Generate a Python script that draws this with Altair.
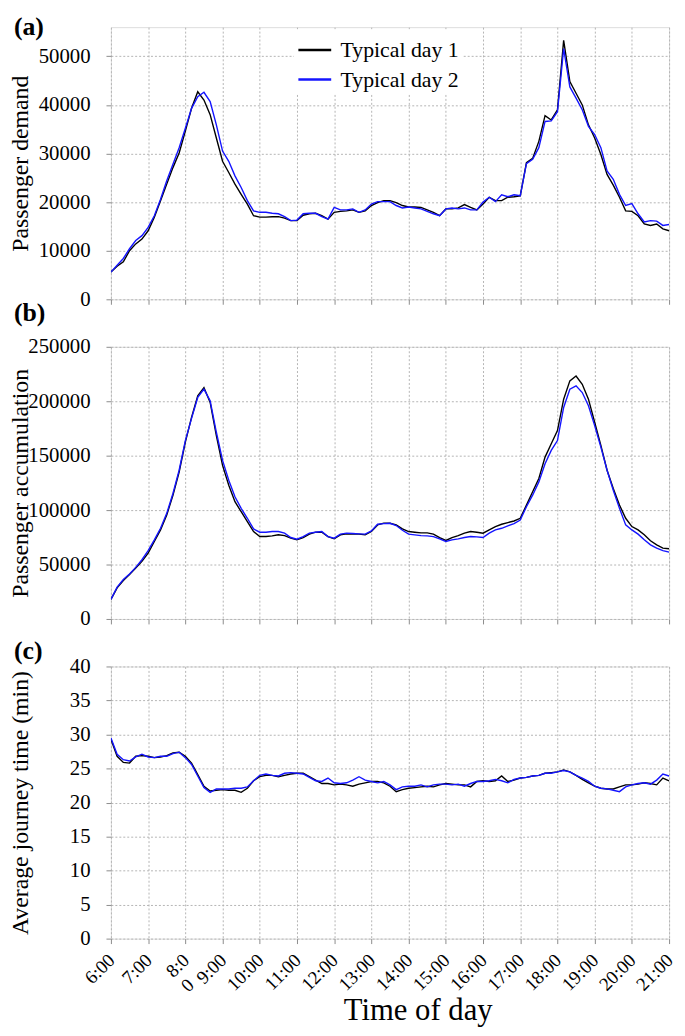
import altair as alt
import pandas as pd

# time grid: every 10 minutes from 6:00 to 21:00 (minutes since midnight)
minutes = list(range(360, 1261, 10))
hours = [m / 60 for m in minutes]
hour_ticks = list(range(6, 22))
series_names = ["Typical day 1", "Typical day 2"]

# (a) Passenger demand (thousands)
demand_d1 = [5.6, 6.8, 7.7, 10.0, 11.4, 12.4, 14.1,
             16.9, 20.3, 23.7, 27.1, 30.1, 34.6,
             39.3, 42.7, 41.0, 38.0, 33.2, 28.4,
             26.1, 23.7, 21.6, 19.6, 17.2, 16.9,
             16.9, 17.0, 17.0, 16.7, 16.2, 16.2,
             17.3, 17.6, 17.7, 17.2, 16.5, 17.9,
             18.1, 18.2, 18.4, 17.9, 18.2, 19.3,
             19.9, 20.3, 20.3, 19.9, 19.3, 19.0,
             19.0, 18.9, 18.4, 17.9, 17.2, 18.6,
             18.6, 18.8, 19.5, 18.9, 18.4, 19.6,
             21.0, 20.3, 20.3, 21.0, 21.1, 21.3,
             28.1, 29.0, 32.5, 37.8, 36.9, 39.0,
             53.3, 44.8, 42.4, 40.0, 35.9, 33.2,
             29.8, 25.7, 23.5, 21.0, 18.2, 18.1,
             17.2, 15.5, 15.2, 15.5, 14.5, 14.1]
demand_d2 = [5.6, 7.0, 8.4, 10.4, 12.1, 13.1, 14.8,
             17.2, 20.6, 24.4, 27.8, 31.2, 35.2,
             39.3, 41.7, 42.6, 40.7, 35.9, 30.5,
             28.4, 25.4, 23.0, 20.3, 18.2, 17.9,
             17.9, 17.7, 17.6, 17.0, 16.2, 16.3,
             17.6, 17.7, 17.7, 17.0, 16.5, 18.9,
             18.4, 18.4, 18.6, 17.9, 18.4, 19.6,
             20.1, 20.1, 20.1, 19.3, 18.8, 19.0,
             18.8, 18.6, 18.1, 17.6, 17.2, 18.6,
             18.8, 18.6, 18.8, 18.4, 18.4, 20.0,
             21.0, 20.1, 21.5, 21.1, 21.5, 21.3,
             27.9, 28.8, 31.2, 36.6, 36.7, 38.6,
             51.6, 43.7, 41.4, 39.0, 35.6, 33.9,
             31.2, 26.4, 24.7, 21.6, 19.3, 19.7,
             17.6, 15.9, 16.2, 16.1, 15.2, 15.4]

# (b) Passenger accumulation (thousands)
accum_d1 = [18.0, 28.6, 35.3, 40.8, 46.8, 52.9, 60.5,
            71.2, 81.8, 95.5, 113.7, 135.0, 162.4,
            185.2, 205.0, 212.6, 198.9, 168.5, 141.1,
            122.9, 107.7, 98.5, 89.4, 80.3, 75.7,
            75.7, 76.3, 77.3, 76.6, 74.2, 72.7,
            74.8, 77.9, 79.7, 79.7, 75.7, 73.6,
            77.3, 78.2, 77.9, 77.9, 77.3, 80.3,
            86.4, 88.0, 87.9, 86.4, 82.7, 80.3,
            79.7, 79.1, 79.1, 77.9, 74.8, 72.1,
            74.8, 76.6, 78.8, 80.3, 79.7, 78.8,
            81.8, 84.9, 87.0, 88.5, 90.0, 92.5,
            104.6, 116.8, 129.0, 148.7, 160.9, 173.1,
            201.9, 218.7, 223.2, 215.6, 201.9, 180.7,
            159.4, 136.6, 119.8, 104.6, 92.5, 84.9,
            81.8, 77.3, 71.8, 68.1, 65.1, 64.5]
accum_d2 = [18.0, 29.2, 36.2, 41.4, 47.4, 54.4, 62.7,
            72.7, 83.3, 97.0, 115.3, 136.6, 163.9,
            184.3, 203.5, 211.1, 200.4, 171.5, 145.7,
            127.4, 112.2, 101.6, 92.5, 82.7, 79.7,
            79.7, 80.3, 80.3, 78.8, 74.8, 73.3,
            75.7, 78.8, 79.7, 80.3, 75.7, 74.2,
            77.9, 78.8, 78.5, 78.2, 77.9, 80.9,
            87.0, 87.6, 87.9, 85.8, 81.5, 77.9,
            77.3, 76.6, 76.3, 75.7, 73.6, 71.2,
            72.7, 73.6, 74.8, 75.7, 75.4, 74.8,
            78.8, 81.8, 83.3, 85.5, 87.6, 90.9,
            103.1, 113.7, 125.9, 142.6, 154.8, 163.9,
            194.3, 211.1, 214.1, 208.0, 195.9, 177.6,
            157.8, 136.6, 118.3, 101.6, 86.4, 81.8,
            77.9, 72.7, 68.1, 65.1, 62.7, 61.4]

# (c) Average journey time (min)
jt_d1 = [29.3, 26.8, 25.9, 25.8, 26.8, 26.9, 26.8,
         26.6, 26.7, 26.9, 27.3, 27.4, 26.8,
         25.8, 24.1, 22.4, 21.7, 21.8, 21.9,
         21.8, 21.8, 21.5, 22.1, 23.2, 23.8,
         24.0, 24.0, 23.8, 24.0, 24.2, 24.3,
         24.3, 23.8, 23.3, 22.8, 22.8, 22.6,
         22.7, 22.6, 22.4, 22.7, 22.9, 23.1,
         23.1, 22.9, 22.4, 21.6, 21.9, 22.1,
         22.2, 22.3, 22.4, 22.3, 22.6, 22.8,
         22.7, 22.6, 22.6, 22.3, 23.1, 23.2,
         23.1, 23.2, 23.9, 23.1, 23.3, 23.6,
         23.7, 23.9, 24.0, 24.3, 24.4, 24.5,
         24.8, 24.5, 24.0, 23.4, 22.9, 22.4,
         22.1, 22.0, 22.0, 22.3, 22.6, 22.6,
         22.7, 22.9, 22.8, 22.6, 23.6, 23.2]
jt_d2 = [29.5, 27.1, 26.3, 26.1, 26.7, 27.1, 26.7,
         26.6, 26.8, 26.8, 27.2, 27.4, 26.6,
         25.6, 23.9, 22.2, 21.5, 22.0, 22.0,
         22.0, 22.1, 22.1, 22.3, 23.2, 24.0,
         24.2, 24.0, 23.9, 24.3, 24.4, 24.3,
         24.2, 23.7, 23.2, 23.1, 23.6, 22.9,
         22.8, 22.9, 23.3, 23.8, 23.3, 23.1,
         22.9, 23.1, 22.6, 21.9, 22.3, 22.4,
         22.4, 22.6, 22.3, 22.6, 22.7, 22.7,
         22.6, 22.7, 22.4, 22.8, 23.1, 23.1,
         23.2, 23.4, 23.2, 22.9, 23.4, 23.6,
         23.7, 23.9, 24.0, 24.3, 24.3, 24.5,
         24.7, 24.5, 24.0, 23.6, 23.1, 22.4,
         22.1, 22.0, 21.8, 21.6, 22.3, 22.6,
         22.8, 22.9, 22.7, 23.3, 24.2, 23.9]

# the 8:00 tick label is broken over two lines in the original
wrapped_hour = [8]
wrapped_tail = ["0"]

SERIF = "Liberation Serif, Times New Roman, serif"
W, H = 564, 275
GRID = "#b4b4b4"
FRAME = "#8c8c8c"
colors = ["#000000", "#1414ff"]


def long_df(d1, d2, scale):
    rows = []
    for name, vals in zip(series_names, [d1, d2]):
        for h, v in zip(hours, vals):
            rows.append({"hour": h, "value": v * scale, "series": name})
    return pd.DataFrame(rows)


xscale = alt.Scale(domain=[6, 21], nice=False, zero=False)


def panel(df, ytitle, ydomain, ystep, letter, letter_y, show_x_labels, show_legend):
    if show_x_labels:
        xaxis = alt.Axis(values=hour_ticks, grid=True, gridColor=GRID, gridDash=[2, 2],
                         tickSize=5, tickColor=FRAME, domain=False,
                         labelExpr="datum.value == 8 ? '8:0' : datum.value + ':00'",
                         labelAngle=-45, labelAlign="right", labelBaseline="top",
                         labelPadding=7, labelOffset=-6, labelFont=SERIF, labelFontSize=19,
                         labelColor="#000000",
                         labelFlush=False, labelOverlap=False,
                         title="Time of day", titleFont=SERIF, titleFontSize=31,
                         titleFontWeight="normal", titleColor="#000000",
                         titleX=310, titleY=82, titleAlign="center",
                         titleBaseline="alphabetic")
    else:
        xaxis = alt.Axis(values=hour_ticks, grid=True, gridColor=GRID, gridDash=[2, 2],
                         tickSize=5, tickColor=FRAME, domain=False, labels=False,
                         title=None)
    yvals = list(range(0, int(ydomain[1] * 1.0001) // ystep * ystep + 1, ystep))
    yaxis = alt.Axis(values=yvals, format="d", grid=True, gridColor=GRID, gridDash=[2, 2],
                     tickSize=5, tickColor=FRAME, domain=False,
                     labelPadding=16, labelFont=SERIF, labelFontSize=21,
                     labelColor="#000000",
                     title=ytitle, titleFont=SERIF, titleFontSize=24,
                     titleFontWeight="normal", titleColor="#000000",
                     titleX=-84, titleY=H / 2, titleAlign="center",
                     titleBaseline="alphabetic", titleAngle=-90)
    if show_legend:
        legend = alt.Legend(orient="none", legendX=185, legendY=2, title=None,
                            symbolType="stroke", symbolStrokeWidth=2.5, symbolSize=1100,
                            labelFont=SERIF, labelFontSize=22, labelColor="#000000",
                            labelOffset=8, rowPadding=1, padding=3,
                            fillColor="#ffffff")
    else:
        legend = None
    lines = alt.Chart(df).mark_line(strokeWidth=1.4, clip=True).encode(
        x=alt.X("hour:Q", scale=xscale, axis=xaxis),
        y=alt.Y("value:Q", scale=alt.Scale(domain=ydomain, nice=False), axis=yaxis),
        color=alt.Color("series:N", scale=alt.Scale(domain=series_names, range=colors),
                        legend=legend),
        order=alt.Order("hour:Q"),
        detail="series:N",
    )
    lab = alt.Chart(pd.DataFrame({"t": [letter]})).mark_text(
        font=SERIF, fontSize=26, fontWeight="bold", align="left", baseline="top",
        color="#000000"
    ).encode(x=alt.value(-98), y=alt.value(letter_y), text="t:N")
    layers = [lines, lab]
    if show_x_labels:
        tail = alt.Chart(pd.DataFrame({"hour": wrapped_hour, "t": wrapped_tail})).mark_text(
            font=SERIF, fontSize=19, align="right", baseline="top", angle=315,
            color="#000000", dx=-1
        ).encode(x=alt.X("hour:Q", scale=xscale, axis=xaxis), y=alt.value(H + 37),
                 text="t:N")
        layers.append(tail)
    return alt.layer(*layers).properties(width=W, height=H)


pa = panel(long_df(demand_d1, demand_d2, 1000), "Passenger demand", [0, 56000], 10000,
           "(a)", -13, False, True)
pb = panel(long_df(accum_d1, accum_d2, 1000), "Passenger accumulation", [0, 250000], 50000,
           "(b)", -47, False, False)
pc = panel(long_df(jt_d1, jt_d2, 1), "Average journey time (min)", [0, 40], 5,
           "(c)", -29, True, False)

chart = alt.vconcat(pa, pb, pc, spacing=48, bounds="flush").resolve_scale(
    color="independent").resolve_legend(color="independent").properties(
    padding={"left": 0, "top": 0, "right": 0, "bottom": 0}
).configure_view(stroke=FRAME, strokeWidth=1).configure(background="#ffffff")

chart.save("out.html", embed_options={"renderer": "svg", "actions": False})
